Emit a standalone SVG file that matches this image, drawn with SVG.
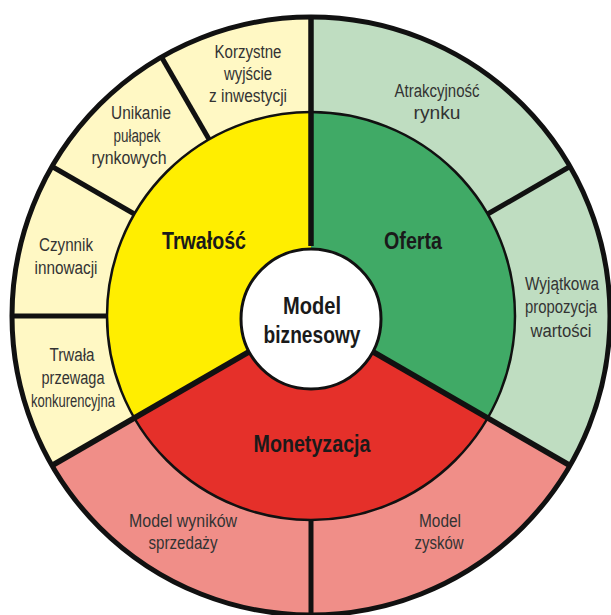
<svg xmlns="http://www.w3.org/2000/svg" width="611" height="615" viewBox="0 0 611 615">
  <style>
    .lbl { font-family: "Liberation Sans", Arial, sans-serif; font-size: 18px; fill: #333333; text-anchor: middle; }
    .main { font-family: "Liberation Sans", Arial, sans-serif; font-size: 24px; font-weight: bold; fill: #1a1a1a; text-anchor: middle; }
    .div-major { stroke: #111111; stroke-width: 5.5; stroke-linecap: butt; }
    .div-minor { stroke: #111111; stroke-width: 5; }
    .ring { fill: none; stroke: #111111; }
  </style>
  <rect width="611" height="615" fill="#ffffff"/>

  <!-- outer ring segments -->
  <g id="outer-ring">
    <path id="trwalosc-outer" d="M311,316 L311,17 A299,299 0 0 0 52.06,465.5 Z" fill="#fff8c4"/>
    <path id="oferta-outer" d="M311,316 L311,17 A299,299 0 0 1 569.94,465.5 Z" fill="#bfddc1"/>
    <path id="monetyzacja-outer" d="M311,316 L52.06,465.5 A299,299 0 0 0 569.94,465.5 Z" fill="#f08e88"/>
  </g>

  <!-- middle ring segments -->
  <g id="middle-ring">
    <path id="trwalosc" d="M311,316 L311,112 A204,204 0 0 0 134.33,418 Z" fill="#ffee00"/>
    <path id="oferta" d="M311,316 L311,112 A204,204 0 0 1 487.67,418 Z" fill="#40aa66"/>
    <path id="monetyzacja" d="M311,316 L134.33,418 A204,204 0 0 0 487.67,418 Z" fill="#e5302a"/>
    <circle class="ring" cx="311" cy="316" r="204" stroke-width="2.5"/>
  </g>

  <!-- dividers -->
  <g id="connectors">
    <line class="div-major" x1="311" y1="246" x2="311" y2="17"/>
    <line class="div-major" x1="250.38" y1="351" x2="52.06" y2="465.5"/>
    <line class="div-major" x1="371.62" y1="351" x2="569.94" y2="465.5"/>
    <line class="div-minor" x1="209" y1="139.33" x2="161.5" y2="57.06"/>
    <line class="div-minor" x1="134.33" y1="214" x2="52.06" y2="166.5"/>
    <line class="div-minor" x1="107" y1="316" x2="12" y2="316"/>
    <line class="div-minor" x1="487.67" y1="214" x2="569.94" y2="166.5" stroke-width="4"/>
    <line class="div-minor" x1="311" y1="520" x2="311" y2="615" stroke-width="3"/>
  </g>

  <circle class="ring" cx="311" cy="316" r="299" stroke-width="5"/>

  <!-- centre -->
  <g id="model-biznesowy">
    <circle cx="311" cy="319" r="70" fill="#ffffff" stroke="#111111" stroke-width="3"/>
    <text class="main" x="312" y="314" textLength="58" lengthAdjust="spacingAndGlyphs">Model</text>
    <text class="main" x="312" y="343" textLength="97" lengthAdjust="spacingAndGlyphs">biznesowy</text>
  </g>

  <g id="node-trwalosc"><text class="main" x="204" y="249" textLength="84" lengthAdjust="spacingAndGlyphs">Trwałość</text></g>
  <g id="node-oferta"><text class="main" x="413" y="249" textLength="58" lengthAdjust="spacingAndGlyphs">Oferta</text></g>
  <g id="node-monetyzacja"><text class="main" x="312" y="452" textLength="117" lengthAdjust="spacingAndGlyphs">Monetyzacja</text></g>

  <g id="node-korzystne-wyjscie">
    <text class="lbl" x="248" y="58" textLength="67" lengthAdjust="spacingAndGlyphs">Korzystne</text>
    <text class="lbl" x="248" y="80" textLength="48" lengthAdjust="spacingAndGlyphs">wyjście</text>
    <text class="lbl" x="248" y="102" textLength="78" lengthAdjust="spacingAndGlyphs">z inwestycji</text>
  </g>
  <g id="node-unikanie-pulapek">
    <text class="lbl" x="141" y="119" textLength="60" lengthAdjust="spacingAndGlyphs">Unikanie</text>
    <text class="lbl" x="137" y="142" textLength="47" lengthAdjust="spacingAndGlyphs">pułapek</text>
    <text class="lbl" x="129" y="164" textLength="75" lengthAdjust="spacingAndGlyphs">rynkowych</text>
  </g>
  <g id="node-czynnik-innowacji">
    <text class="lbl" x="66" y="251" textLength="54" lengthAdjust="spacingAndGlyphs">Czynnik</text>
    <text class="lbl" x="66" y="274" textLength="63" lengthAdjust="spacingAndGlyphs">innowacji</text>
  </g>
  <g id="node-trwala-przewaga">
    <text class="lbl" x="72" y="361" textLength="45" lengthAdjust="spacingAndGlyphs">Trwała</text>
    <text class="lbl" x="73" y="384" textLength="63" lengthAdjust="spacingAndGlyphs">przewaga</text>
    <text class="lbl" x="73" y="407" textLength="84" lengthAdjust="spacingAndGlyphs">konkurencyjna</text>
  </g>
  <g id="node-atrakcyjnosc-rynku">
    <text class="lbl" x="437" y="97" textLength="85" lengthAdjust="spacingAndGlyphs">Atrakcyjność</text>
    <text class="lbl" x="437" y="119" textLength="47" lengthAdjust="spacingAndGlyphs">rynku</text>
  </g>
  <g id="node-wyjatkowa-propozycja">
    <text class="lbl" x="562" y="290" textLength="74" lengthAdjust="spacingAndGlyphs">Wyjątkowa</text>
    <text class="lbl" x="561" y="313" textLength="72" lengthAdjust="spacingAndGlyphs">propozycja</text>
    <text class="lbl" x="561" y="337" textLength="61" lengthAdjust="spacingAndGlyphs">wartości</text>
  </g>
  <g id="node-model-wynikow">
    <text class="lbl" x="183" y="527" textLength="108" lengthAdjust="spacingAndGlyphs">Model wyników</text>
    <text class="lbl" x="183" y="549" textLength="69" lengthAdjust="spacingAndGlyphs">sprzedaży</text>
  </g>
  <g id="node-model-zyskow">
    <text class="lbl" x="440" y="527" textLength="42" lengthAdjust="spacingAndGlyphs">Model</text>
    <text class="lbl" x="439" y="549" textLength="49" lengthAdjust="spacingAndGlyphs">zysków</text>
  </g>
</svg>
